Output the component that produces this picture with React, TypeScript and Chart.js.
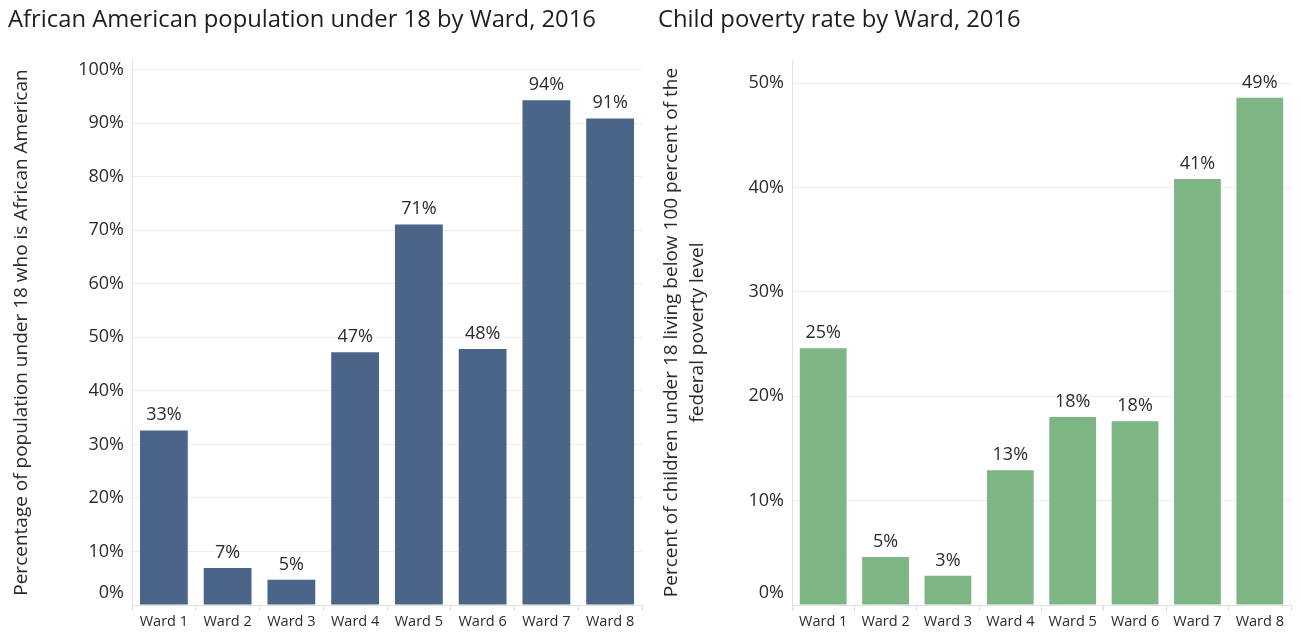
import React, { useEffect, useRef } from "react";
import { Chart, registerables } from "chart.js";

Chart.register(...registerables);

const wards = ["Ward 1", "Ward 2", "Ward 3", "Ward 4", "Ward 5", "Ward 6", "Ward 7", "Ward 8"];
const africanAmericanShare = [32.6, 6.9, 4.7, 47.2, 71.1, 47.8, 94.3, 90.9];
const childPovertyRate = [24.6, 4.6, 2.8, 12.9, 18.0, 17.6, 40.8, 48.6];
const leftTicks = [0, 10, 20, 30, 40, 50, 60, 70, 80, 90, 100];
const rightTicks = [0, 10, 20, 30, 40, 50];

const FONT = "'Open Sans', Lato, sans-serif";
const TEXT = "#2b2b2b";

const labelPlugin = {
  id: "customLabels",
  afterDatasetsDraw(chart: any) {
    const ctx = chart.ctx;
    const meta = chart.getDatasetMeta(0);
    const data = chart.data.datasets[0].data as number[];
    ctx.save();
    ctx.font = `18px ${FONT}`;
    ctx.fillStyle = TEXT;
    ctx.textAlign = "center";
    ctx.textBaseline = "alphabetic";
    meta.data.forEach((bar: any, i: number) => {
      ctx.fillText(Math.round(data[i]) + "%", bar.x, bar.y - 10);
    });
    // y tick labels
    const y = chart.scales.y;
    const ticks: number[] = chart.options.plugins.customLabels.ticks;
    ctx.textAlign = "right";
    ctx.textBaseline = "middle";
    ticks.forEach((v) => {
      let py = y.getPixelForValue(v);
      if (v === 0) py -= 12;
      ctx.fillText(v + "%", chart.chartArea.left - 8, py);
    });
    ctx.restore();
  },
};

function makeConfig(opts: {
  data: number[];
  color: string;
  max: number;
  ticks: number[];
  title: string;
  yTitle: string | string[];
  yWidth: number;
  padRight: number;
}) {
  return {
    type: "bar" as const,
    data: {
      labels: wards,
      datasets: [
        {
          data: opts.data,
          backgroundColor: opts.color,
          categoryPercentage: 0.75,
          barPercentage: 1,
        },
      ],
    },
    plugins: [labelPlugin],
    options: {
      animation: false,
      responsive: false,
      maintainAspectRatio: false,
      layout: { padding: { left: 8, right: opts.padRight, top: 0, bottom: 0 } },
      plugins: {
        legend: { display: false },
        tooltip: { enabled: false },
        customLabels: { ticks: opts.ticks },
        title: {
          display: true,
          text: opts.title,
          align: "start",
          color: "#1e1e1e",
          font: { family: FONT, size: 23.8, weight: "normal", lineHeight: 1.2 },
          padding: { top: 6, bottom: 25.5 },
        },
      },
      scales: {
        x: {
          grid: {
            drawOnChartArea: false,
            drawTicks: true,
            tickLength: 6,
            color: "#dddddd",
            offset: true,
          },
          border: { color: "#e2e2e2" },
          ticks: {
            color: TEXT,
            font: { family: FONT, size: 14.5 },
            padding: 2,
            maxRotation: 0,
            autoSkip: false,
          },
          afterFit(scale: any) {
            scale.height = 27;
          },
        },
        y: {
          min: 0,
          max: opts.max,
          grid: { color: "#eeeeee", drawTicks: false },
          border: { color: "#e2e2e2" },
          ticks: { display: false, stepSize: 10 },
          afterBuildTicks(scale: any) {
            scale.ticks = opts.ticks.map((v) => ({ value: v }));
          },
          title: {
            display: true,
            text: opts.yTitle,
            color: TEXT,
            font: { family: FONT, size: 19, lineHeight: 1.37 },
            padding: { top: 1, bottom: 0 },
          },
          afterFit(scale: any) {
            scale.width = opts.yWidth;
          },
        },
      },
    },
  };
}

function BarChart(props: { config: any; width: number; height: number; left: number }) {
  const ref = useRef<HTMLCanvasElement>(null);
  useEffect(() => {
    if (!ref.current) return;
    const chart = new Chart(ref.current, props.config);
    return () => chart.destroy();
  }, []);
  return (
    <canvas
      ref={ref}
      width={props.width}
      height={props.height}
      style={{ position: "absolute", left: props.left, top: 0, width: props.width, height: props.height }}
    />
  );
}

export default function App() {
  const leftConfig = makeConfig({
    data: africanAmericanShare,
    color: "#4a6588",
    max: 101.8,
    ticks: leftTicks,
    title: "African American population under 18 by Ward, 2016",
    yTitle: "Percentage of population under 18 who is African American",
    yWidth: 124,
    padRight: 8,
  });
  const rightConfig = makeConfig({
    data: childPovertyRate,
    color: "#7eb585",
    max: 52.2,
    ticks: rightTicks,
    title: "Child poverty rate by Ward, 2016",
    yTitle: ["Percent of children under 18 living below 100 percent of the", "federal poverty level"],
    yWidth: 134,
    padRight: 11,
  });
  return (
    <div style={{ position: "absolute", left: 0, top: 0, width: 1302, height: 632, background: "#ffffff" }}>
      <BarChart config={leftConfig} width={650} height={632} left={0} />
      <BarChart config={rightConfig} width={652} height={632} left={650} />
    </div>
  );
}
